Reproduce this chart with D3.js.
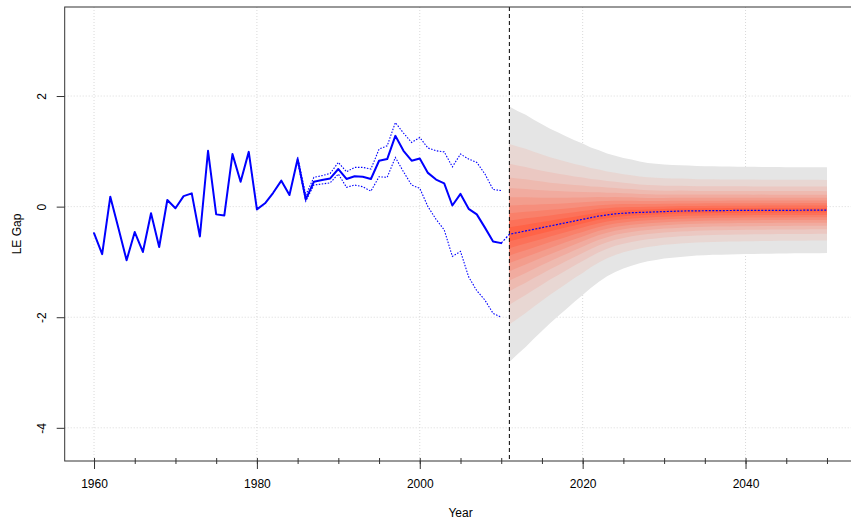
<!DOCTYPE html>
<html>
<head>
<meta charset="utf-8">
<script src="https://cdn.jsdelivr.net/npm/d3@7"></script>
<style>
  body { margin: 0; background: #fff; }
  svg text { font-family: "Liberation Sans", Arial, Helvetica, sans-serif; fill: #000; }
</style>
</head>
<body>
<svg id="chart" width="851" height="519"></svg>
<script>
// ---- observed life-expectancy gap, 1960-2010 ----
const histYears = d3.range(1960, 2011);
const histGap = [
  -0.48, -0.86, 0.18, -0.39, -0.97, -0.46, -0.82, -0.12, -0.73, 0.12,
  -0.03, 0.19, 0.24, -0.54, 1.01, -0.14, -0.16, 0.95, 0.45, 0.99,
  -0.05, 0.06, 0.25, 0.47, 0.21, 0.86, 0.13, 0.45, 0.48, 0.51,
  0.68, 0.50, 0.55, 0.54, 0.50, 0.83, 0.86, 1.28, 1.01, 0.83,
  0.87, 0.61, 0.49, 0.42, 0.02, 0.23, -0.04, -0.14, -0.38, -0.63,
  -0.66
];

// ---- interval around the observed series, 1985-2010 ----
const ciYears = d3.range(1985, 2011);
const ciUpper = [
  0.90, 0.21, 0.53, 0.56, 0.60, 0.80, 0.63, 0.71, 0.71, 0.68,
  1.04, 1.10, 1.52, 1.33, 1.16, 1.25, 1.06, 1.01, 0.99, 0.72,
  0.95, 0.86, 0.80, 0.59, 0.31, 0.29
];
const ciLower = [
  0.81, 0.10, 0.39, 0.41, 0.43, 0.59, 0.35, 0.39, 0.36, 0.28,
  0.54, 0.53, 0.89, 0.63, 0.39, 0.33, 0.00, -0.23, -0.42, -0.90,
  -0.81, -1.27, -1.52, -1.69, -1.93, -2.00
];

// ---- forecast 2011-2050: median with 1% / 99% bounds ----
const fcYears = d3.range(2011, 2051);
const fcMedian = [
  -0.50, -0.47, -0.44, -0.41, -0.38, -0.35, -0.32, -0.29, -0.26, -0.23,
  -0.20, -0.17, -0.15, -0.13, -0.12, -0.11, -0.105, -0.10, -0.095, -0.09,
  -0.085, -0.08, -0.078, -0.076, -0.074, -0.072, -0.071, -0.070, -0.069, -0.068,
  -0.068, -0.067, -0.067, -0.066, -0.066, -0.066, -0.065, -0.065, -0.065, -0.065
];
const fcUpper = [
  1.81, 1.73, 1.66, 1.57, 1.49, 1.41, 1.34, 1.27, 1.20, 1.14,
  1.07, 1.02, 0.96, 0.92, 0.88, 0.85, 0.815, 0.79, 0.775, 0.76,
  0.755, 0.75, 0.742, 0.734, 0.731, 0.728, 0.726, 0.724, 0.722, 0.721,
  0.719, 0.718, 0.716, 0.715, 0.714, 0.713, 0.713, 0.712, 0.711, 0.71
];
const fcLower = [
  -2.81, -2.67, -2.54, -2.39, -2.25, -2.11, -1.98, -1.85, -1.72, -1.60,
  -1.47, -1.36, -1.26, -1.18, -1.12, -1.07, -1.025, -0.99, -0.965, -0.94,
  -0.925, -0.91, -0.898, -0.886, -0.879, -0.872, -0.868, -0.864, -0.86, -0.857,
  -0.855, -0.852, -0.85, -0.847, -0.846, -0.845, -0.843, -0.842, -0.841, -0.84
];

// fan percentile levels (upper side) and their standard-normal quantiles
const fanProbs = [0.99, 0.95, 0.90, 0.85, 0.80, 0.75, 0.70, 0.65, 0.60, 0.55];
const fanZ = [2.326, 1.645, 1.282, 1.036, 0.842, 0.674, 0.524, 0.385, 0.253, 0.126];

const xMajorTicks = [1960, 1980, 2000, 2020, 2040];
const xMinorTicks = d3.range(1960, 2051, 5);
const yTicks = [-4, -2, 0, 2];
const forecastStart = 2011;

// ---- layout ----
const svg = d3.select("#chart");
const plot = { left: 64.7, right: 856.3, top: 7, bottom: 461 };

const x = d3.scaleLinear().domain([1956.4, 2053.6]).range([plot.left, plot.right]);
const y = d3.scaleLinear().domain([-4.6, 3.61]).range([plot.bottom, plot.top]);

svg.append("clipPath").attr("id", "plotclip")
  .append("rect")
  .attr("x", plot.left).attr("y", plot.top)
  .attr("width", plot.right - plot.left).attr("height", plot.bottom - plot.top);

const body = svg.append("g").attr("clip-path", "url(#plotclip)");

// grid
body.append("g").selectAll("line").data(xMajorTicks).join("line")
  .attr("x1", d => x(d)).attr("x2", d => x(d))
  .attr("y1", plot.top).attr("y2", plot.bottom)
  .attr("stroke", "#d9d9d9").attr("stroke-width", 1).attr("stroke-dasharray", "1,2");
body.append("g").selectAll("line").data(yTicks).join("line")
  .attr("x1", plot.left).attr("x2", plot.right)
  .attr("y1", d => y(d)).attr("y2", d => y(d))
  .attr("stroke", "#d9d9d9").attr("stroke-width", 1).attr("stroke-dasharray", "1,2");

// fan: nested percentile bands, outermost (grey) first, innermost (tomato) last
const fanColor = d3.interpolateRgb("tomato", "#e5e5e5");
const fanArea = d3.area().x(d => x(d.yr)).y0(d => y(d.lo)).y1(d => y(d.hi));
fanZ.forEach((z, i) => {
  const k = z / fanZ[0];
  const band = fcYears.map((yr, j) => ({
    yr,
    hi: fcMedian[j] + (fcUpper[j] - fcMedian[j]) * k,
    lo: fcMedian[j] - (fcMedian[j] - fcLower[j]) * k
  }));
  body.append("path").datum(band)
    .attr("d", fanArea)
    .attr("fill", fanColor((fanZ.length - 1 - i) / (fanZ.length - 1)));
});

// forecast start marker
body.append("line")
  .attr("x1", x(forecastStart)).attr("x2", x(forecastStart))
  .attr("y1", plot.top).attr("y2", plot.bottom)
  .attr("stroke", "#000").attr("stroke-width", 1).attr("stroke-dasharray", "4,3");

// interval lines around the observed series
const line = d3.line().x(d => x(d[0])).y(d => y(d[1]));
[ciUpper, ciLower].forEach(vals => {
  body.append("path").datum(ciYears.map((yr, i) => [yr, vals[i]]))
    .attr("d", line).attr("fill", "none")
    .attr("stroke", "#0000ff").attr("stroke-width", 1.1)
    .attr("stroke-dasharray", "1.5,1.5");
});

// observed series
body.append("path").datum(histYears.map((yr, i) => [yr, histGap[i]]))
  .attr("d", line).attr("fill", "none")
  .attr("stroke", "#0000ff").attr("stroke-width", 2)
  .attr("stroke-linejoin", "round").attr("stroke-linecap", "round");

// forecast median, anchored at the last observation
const medianPts = [[histYears[histYears.length - 1], histGap[histGap.length - 1]]]
  .concat(fcYears.map((yr, i) => [yr, fcMedian[i]]));
body.append("path").datum(medianPts)
  .attr("d", line).attr("fill", "none")
  .attr("stroke", "#0000ff").attr("stroke-width", 1.2)
  .attr("stroke-dasharray", "2,1.5");

// frame
svg.append("rect")
  .attr("x", plot.left).attr("y", plot.top)
  .attr("width", plot.right - plot.left).attr("height", plot.bottom - plot.top)
  .attr("fill", "none").attr("stroke", "#333").attr("stroke-width", 1);

// x axis: major ticks with labels
const xAxis = svg.append("g")
  .attr("transform", `translate(0,${plot.bottom})`)
  .call(d3.axisBottom(x).tickValues(xMajorTicks).tickFormat(d3.format("d"))
    .tickSize(8).tickPadding(10.5));
xAxis.select(".domain").remove();
xAxis.selectAll("line").attr("stroke", "#333");
xAxis.selectAll("text").attr("font-size", 12).attr("fill", "#000")
  .style("font-family", "'Liberation Sans', Arial, sans-serif");

// x axis: minor ticks every five years
const xMinor = svg.append("g")
  .attr("transform", `translate(0,${plot.bottom - 3})`)
  .call(d3.axisBottom(x).tickValues(xMinorTicks).tickFormat("").tickSize(6));
xMinor.select(".domain").remove();
xMinor.selectAll("line").attr("stroke", "#333");

// y axis with rotated labels
const yAxis = svg.append("g")
  .attr("transform", `translate(${plot.left},0)`)
  .call(d3.axisLeft(y).tickValues(yTicks).tickFormat(d3.format("d")).tickSize(8));
yAxis.select(".domain").remove();
yAxis.selectAll("line").attr("stroke", "#333");
yAxis.selectAll("text")
  .attr("x", null).attr("dy", null)
  .attr("text-anchor", "middle")
  .attr("transform", "translate(-19,0) rotate(-90)")
  .attr("font-size", 12).attr("fill", "#000")
  .style("font-family", "'Liberation Sans', Arial, sans-serif")
  .text(d => d < 0 ? "-" + Math.abs(d) : String(d));

// axis titles
svg.append("text")
  .attr("x", (plot.left + plot.right) / 2).attr("y", 517)
  .attr("text-anchor", "middle").attr("font-size", 12)
  .text("Year");
svg.append("text")
  .attr("transform", `translate(21,${(plot.top + plot.bottom) / 2}) rotate(-90)`)
  .attr("text-anchor", "middle").attr("font-size", 12)
  .text("LE Gap");
</script>
</body>
</html>
